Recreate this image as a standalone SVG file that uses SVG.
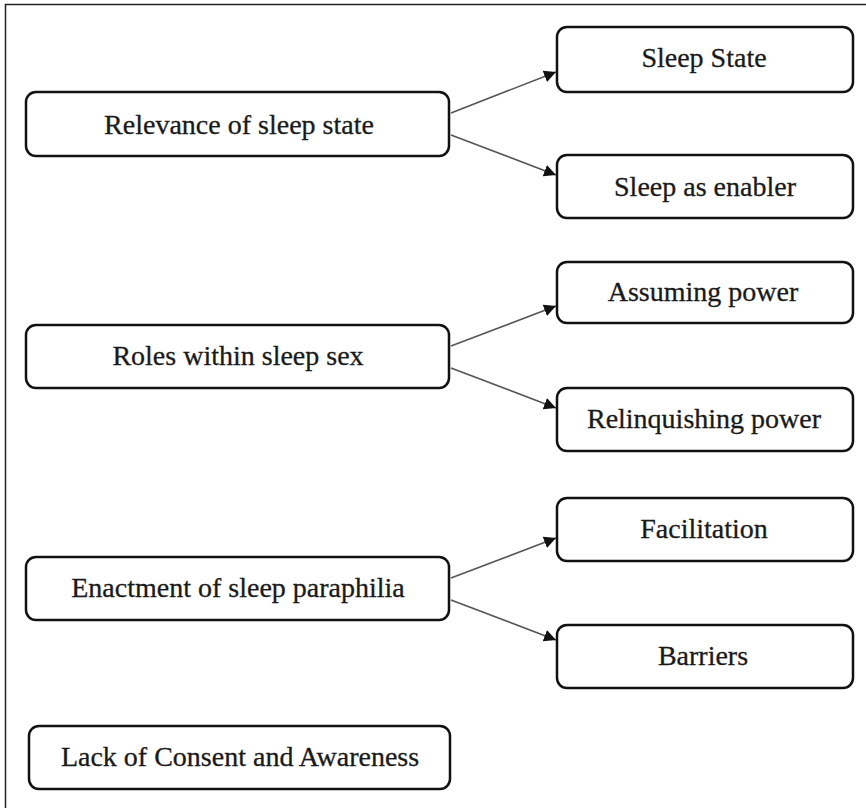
<svg xmlns="http://www.w3.org/2000/svg" width="866" height="808" viewBox="0 0 866 808">
<defs>
<style>
.box{fill:#fff;stroke:#111;stroke-width:2.5}
.lbl{font-family:"Liberation Serif","Times New Roman",serif;font-size:28px;fill:#1a1a1a;stroke:#1a1a1a;stroke-width:0.3;text-anchor:middle;dominant-baseline:central}
.conn{stroke:#555;stroke-width:1.6;fill:none}
</style>
<marker id="ah" viewBox="0 0 10 10" refX="10" refY="5" markerWidth="12" markerHeight="12" markerUnits="userSpaceOnUse" orient="auto">
<path d="M0,0 L10,5 L0,10 z" fill="#111"/>
</marker>
</defs>
<rect x="0" y="0" width="866" height="808" fill="#fff"/>
<path d="M5.5,808 V4.5 H866" fill="none" stroke="#222" stroke-width="1.5"/>
<g id="n1"><rect class="box" x="26" y="92" width="423" height="64" rx="10"/><text class="lbl" x="239" y="124">Relevance of sleep state</text></g>
<g id="n2"><rect class="box" x="557" y="27" width="296" height="65" rx="10"/><text class="lbl" x="704" y="57">Sleep State</text></g>
<g id="n3"><rect class="box" x="557" y="155" width="296" height="63" rx="10"/><text class="lbl" x="705" y="186">Sleep as enabler</text></g>
<g id="n4"><rect class="box" x="26" y="325" width="423" height="63" rx="10"/><text class="lbl" x="238" y="355">Roles within sleep sex</text></g>
<g id="n5"><rect class="box" x="557" y="262" width="296" height="61" rx="10"/><text class="lbl" x="703" y="291">Assuming power</text></g>
<g id="n6"><rect class="box" x="557" y="388" width="296" height="63" rx="10"/><text class="lbl" x="704" y="418">Relinquishing power</text></g>
<g id="n7"><rect class="box" x="26" y="557" width="423" height="63" rx="10"/><text class="lbl" x="238" y="587">Enactment of sleep paraphilia</text></g>
<g id="n8"><rect class="box" x="557" y="498" width="296" height="63" rx="10"/><text class="lbl" x="704" y="528">Facilitation</text></g>
<g id="n9"><rect class="box" x="557" y="625" width="296" height="63" rx="10"/><text class="lbl" x="703" y="655">Barriers</text></g>
<g id="n10"><rect class="box" x="29" y="726" width="421" height="63" rx="10"/><text class="lbl" x="240" y="756">Lack of Consent and Awareness</text></g>
<g id="connectors">
<line class="conn" x1="451" y1="113" x2="556" y2="72" marker-end="url(#ah)"/>
<line class="conn" x1="451" y1="135" x2="556" y2="175" marker-end="url(#ah)"/>
<line class="conn" x1="451" y1="346" x2="556" y2="306" marker-end="url(#ah)"/>
<line class="conn" x1="451" y1="368" x2="556" y2="408" marker-end="url(#ah)"/>
<line class="conn" x1="451" y1="578" x2="556" y2="538" marker-end="url(#ah)"/>
<line class="conn" x1="451" y1="600" x2="556" y2="640" marker-end="url(#ah)"/>
</g>
</svg>
